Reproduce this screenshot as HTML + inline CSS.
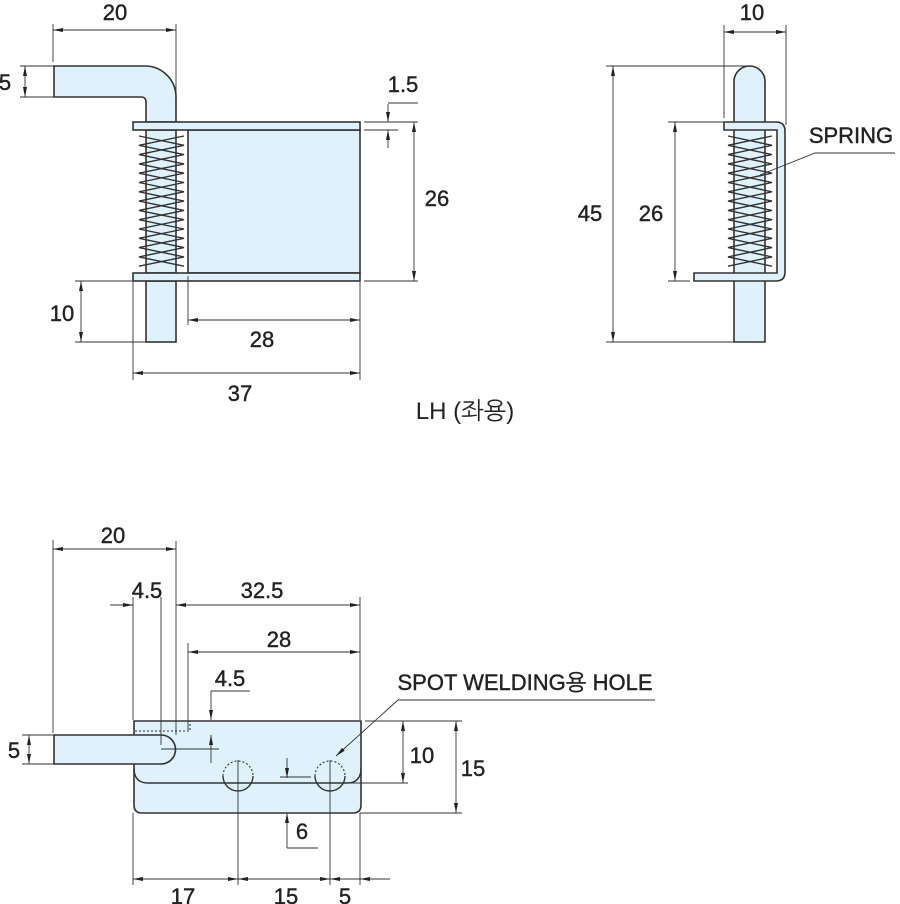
<!DOCTYPE html>
<html><head><meta charset="utf-8"><style>
html,body{margin:0;padding:0;background:#fff;}
svg{display:block;}
text{font-family:"Liberation Sans","NanumGothic",sans-serif;fill:#222;}
</style></head><body>
<svg width="900" height="904" viewBox="0 0 900 904" xmlns="http://www.w3.org/2000/svg">
<defs>
<marker id="a" viewBox="0 0 10 4" refX="10" refY="2" markerWidth="10" markerHeight="4" markerUnits="userSpaceOnUse" orient="auto-start-reverse"><path d="M0,0 L10,2 L0,4 Z" fill="#222"/></marker>
</defs>
<g fill="#dff2fb" stroke="#333" stroke-width="1.6">
<path d="M54,66 H145 A31,31 0 0 1 176,97 V122 H146 V102 Q146,97 141,97 H54 Z"/>
<rect x="146" y="281" width="30" height="61"/>
<rect x="146" y="130" width="30" height="143"/>
<rect x="188" y="130" width="172" height="143"/>
<rect x="133" y="122" width="227" height="8"/>
<rect x="133" y="273" width="227" height="8"/>
<path d="M734,342 V81.5 A15.5,15.5 0 0 1 765,81.5 V342 Z"/>
<path d="M724,122 H776 Q785,122 785,131 V272 Q785,281 776,281 H694 V273 H777 V130 H724 Z"/>
<path d="M134,721 H361 V805 Q361,813 353,813 H142 Q134,813 134,805 Z"/>
<path d="M54,735 H161 A14.5,14.5 0 0 1 161,764 H54 Z"/>
</g>
<g fill="none" stroke="#333" stroke-width="1.4">
<polyline points="139,136 184,145.3 139,154.6 184,163.9 139,173.2 184,182.5 139,191.8 184,201.1 139,210.4 184,219.7 139,229 184,238.3 139,247.6 184,256.9 139,266.2"/>
<polyline points="184,136 139,145.3 184,154.6 139,163.9 184,173.2 139,182.5 184,191.8 139,201.1 184,210.4 139,219.7 184,229 139,238.3 184,247.6 139,256.9 184,266.2"/>
<polyline points="728,136 772,145.3 728,154.6 772,163.9 728,173.2 772,182.5 728,191.8 772,201.1 728,210.4 772,219.7 728,229 772,238.3 728,247.6 772,256.9 728,266.2"/>
<polyline points="772,136 728,145.3 772,154.6 728,163.9 772,173.2 728,182.5 772,191.8 728,201.1 772,210.4 728,219.7 772,229 728,238.3 772,247.6 728,256.9 772,266.2"/>
<path d="M134,768 Q134,783 148,783 H347 Q361,783 361,768"/>
<path d="M223,776 A15,15 0 0 0 253,776 M315,776 A15,15 0 0 0 345,776"/>
<path d="M223,776 A15,15 0 0 1 253,776 M315,776 A15,15 0 0 1 345,776 M135,731 H190 V721" stroke-dasharray="2,2" stroke-width="1.1"/>
</g>
<g stroke="#333" stroke-width="0.9" fill="none">
<path d="M53,24V62 M176,24V120 M20,66H54 M20,97H54 M75,281H133 M75,342H146 M188,276V325 M133,282V380 M360,282V380 M364,122H418 M364,281H418 M364,130H398 M388,103H418"/>
<line x1="53" y1="30" x2="176" y2="30" marker-start="url(#a)" marker-end="url(#a)"/>
<line x1="25" y1="66" x2="25" y2="97" marker-start="url(#a)" marker-end="url(#a)"/>
<line x1="81" y1="281" x2="81" y2="342" marker-start="url(#a)" marker-end="url(#a)"/>
<line x1="188" y1="320" x2="360" y2="320" marker-start="url(#a)" marker-end="url(#a)"/>
<line x1="133" y1="373" x2="360" y2="373" marker-start="url(#a)" marker-end="url(#a)"/>
<line x1="414" y1="122" x2="414" y2="281" marker-start="url(#a)" marker-end="url(#a)"/>
<line x1="388" y1="104" x2="388" y2="122" marker-end="url(#a)"/>
<line x1="388" y1="148" x2="388" y2="130" marker-end="url(#a)"/>
<path d="M724,25V118 M786,25V125 M606,66H752 M606,342H735 M668,122H723 M668,281H690 M895,153H815 L760,175"/>
<line x1="724" y1="32" x2="786" y2="32" marker-start="url(#a)" marker-end="url(#a)"/>
<line x1="613" y1="66" x2="613" y2="342" marker-start="url(#a)" marker-end="url(#a)"/>
<line x1="675" y1="122" x2="675" y2="281" marker-start="url(#a)" marker-end="url(#a)"/>
<path d="M53,540V733 M176,541V735 M133,597V720 M161,597V745 M188,643V730 M360,597V720 M211,691H250 M161,749H219 M280,777H311 M287,848H318 M238,760V885 M330,760V885 M365,721H462 M345,783H408 M360,813H462 M133,813V885 M360,813V885 M655,700H398 M22,735H54 M22,764H54"/>
<line x1="29" y1="735" x2="29" y2="764" marker-start="url(#a)" marker-end="url(#a)"/>
<line x1="53" y1="549" x2="176" y2="549" marker-start="url(#a)" marker-end="url(#a)"/>
<line x1="110" y1="605" x2="133" y2="605" marker-end="url(#a)"/>
<line x1="176" y1="605" x2="360" y2="605" marker-start="url(#a)" marker-end="url(#a)"/>
<line x1="188" y1="652" x2="360" y2="652" marker-start="url(#a)" marker-end="url(#a)"/>
<line x1="211" y1="691" x2="211" y2="720" marker-end="url(#a)"/>
<line x1="211" y1="763" x2="211" y2="735" marker-end="url(#a)"/>
<line x1="287" y1="758" x2="287" y2="778" marker-end="url(#a)"/>
<line x1="287" y1="848" x2="287" y2="813" marker-end="url(#a)"/>
<line x1="403" y1="721" x2="403" y2="783" marker-start="url(#a)" marker-end="url(#a)"/>
<line x1="456" y1="721" x2="456" y2="813" marker-start="url(#a)" marker-end="url(#a)"/>
<line x1="133" y1="879" x2="238" y2="879" marker-start="url(#a)" marker-end="url(#a)"/>
<line x1="238" y1="879" x2="330" y2="879" marker-start="url(#a)" marker-end="url(#a)"/>
<line x1="330" y1="879" x2="360" y2="879" marker-start="url(#a)"/>
<line x1="390" y1="879" x2="360" y2="879" marker-end="url(#a)"/>
<line x1="398" y1="700" x2="336" y2="756" marker-end="url(#a)"/>
</g>
<g font-size="22" text-anchor="middle" stroke="#222" stroke-width="0.4">
<text x="115" y="20">20</text>
<text x="5" y="90">5</text>
<text x="403" y="92">1.5</text>
<text x="437" y="206">26</text>
<text x="62" y="321">10</text>
<text x="262" y="347">28</text>
<text x="240" y="401">37</text>
<text x="752" y="20">10</text>
<text x="590" y="221">45</text>
<text x="651" y="221">26</text>
<text x="851" y="143">SPRING</text>
<text x="465" y="419" font-size="24" stroke-width="0">LH (좌용)</text>
<text x="113" y="543">20</text>
<text x="147" y="598">4.5</text>
<text x="262" y="598">32.5</text>
<text x="279" y="647">28</text>
<text x="230" y="686">4.5</text>
<text x="525" y="690">SPOT WELDING용 HOLE</text>
<text x="14" y="758">5</text>
<text x="422" y="763">10</text>
<text x="473" y="776">15</text>
<text x="302" y="839">6</text>
<text x="183" y="904">17</text>
<text x="286" y="904">15</text>
<text x="345" y="904">5</text>
</g>
</svg>
</body></html>
